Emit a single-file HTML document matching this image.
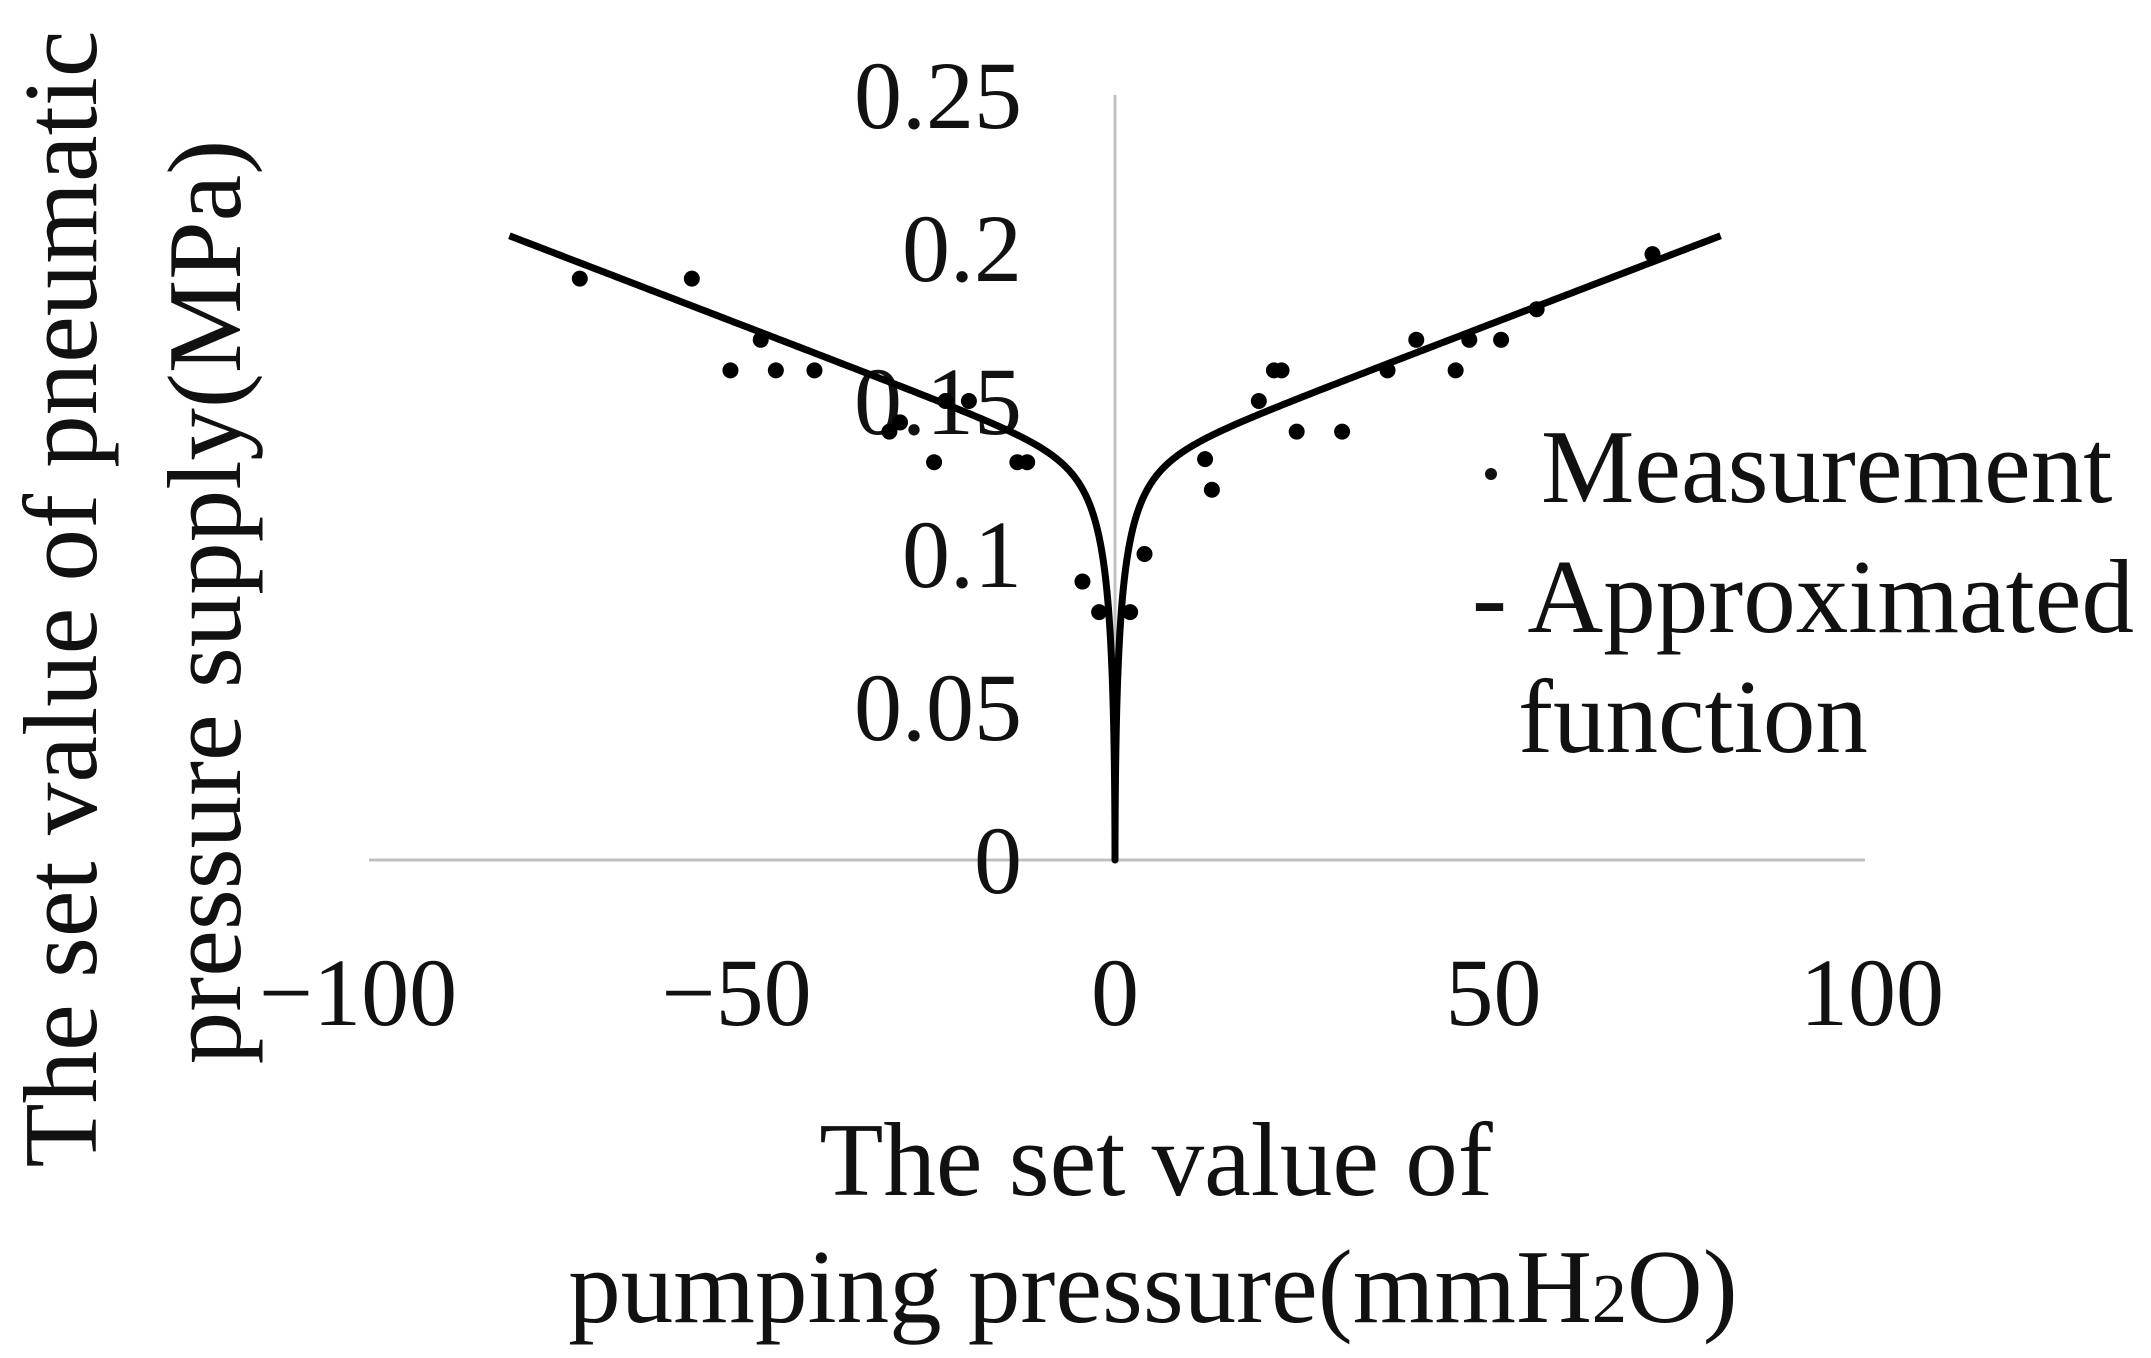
<!DOCTYPE html>
<html><head><meta charset="utf-8"><style>
html,body{margin:0;padding:0;background:#fff;}
svg text{font-family:"Liberation Serif","Noto Serif CJK SC",serif;fill:#111;}
</style></head><body>
<svg id="chart" width="2151" height="1353" viewBox="0 0 2151 1353" xmlns="http://www.w3.org/2000/svg">
<rect width="2151" height="1353" fill="#fff"/>
<g id="axes"></g>
<g id="curve"></g>
<g id="points"></g>
<g>
<circle cx="1491" cy="474" r="6" fill="#111"/>
<text x="1541" y="502" font-size="105">Measurement</text>
<text x="1472" y="632" font-size="105">- Approximated</text>
<text x="1518" y="752" font-size="105">function</text>
</g>
<text x="1156" y="1195" font-size="105" text-anchor="middle">The set value of</text>
<text x="1153" y="1322" font-size="105" text-anchor="middle">pumping pressure(mmH<tspan font-size="70">2</tspan>O)</text>
<text transform="translate(96,599) rotate(-90)" font-size="105" text-anchor="middle">The set value of pneumatic</text>
<text transform="translate(240,602) rotate(-90)" font-size="105" text-anchor="middle">pressure supply(MPa)</text>
</svg>
<script>
const xTicks = [-100, -50, 0, 50, 100];
const yTicks = [0, 0.05, 0.1, 0.15, 0.2, 0.25];
const yTickLabels = ["0", "0.05", "0.1", "0.15", "0.2", "0.25"];
const xTickLabels = ["\u2212100", "\u221250", "0", "50", "100"];
const measX = [-70.7, -55.9, -46.8, -50.8, -44.8, -39.7, -29.8, -28.4, -22.4, -19.3, -23.9, -12.9, -11.6, -4.3, -2.1, 2, 3.9, 11.9, 12.8, 19, 21, 22, 24, 30, 36, 39.8, 45, 46.8, 51, 55.7, 71];
const measY = [0.19, 0.19, 0.17, 0.16, 0.16, 0.16, 0.14, 0.143, 0.15, 0.15, 0.13, 0.13, 0.13, 0.091, 0.081, 0.081, 0.1, 0.131, 0.121, 0.15, 0.16, 0.16, 0.14, 0.14, 0.16, 0.17, 0.16, 0.17, 0.17, 0.18, 0.198];
const fitSlope = [0.00095];
const fitAmp = [0.128];
const fitScale = [0.85];
const fitPow = [0.557];
const fitRange = [-80, 80];

const NS = "http://www.w3.org/2000/svg";
function xs(v){ return 1115 + v * 7.57; }
function ys(v){ return 860 - v * 3060; }
function fitY(x){
  const m = Math.abs(x);
  return fitSlope[0] * m + fitAmp[0] * (1 - Math.exp(-Math.pow(m / fitScale[0], fitPow[0])));
}
function mk(tag, attrs, parent){
  const e = document.createElementNS(NS, tag);
  for (const k in attrs) e.setAttribute(k, attrs[k]);
  parent.appendChild(e);
  return e;
}
const axes = document.getElementById('axes');
let l = mk('line', {x1: 369, x2: 1865, y1: ys(0), y2: ys(0), stroke: '#c0c0c0', 'stroke-width': 3}, axes);


l = mk('line', {x1: xs(0), x2: xs(0), y1: ys(0.25), y2: ys(0), stroke: '#c0c0c0', 'stroke-width': 3}, axes);


yTicks.forEach((v, i) => {
  const t = mk('text', {x: 1022, y: ys(v) + 33, 'font-size': 96, 'text-anchor': 'end'}, axes);
  t.textContent = yTickLabels[i];
  
  
});
xTicks.forEach((v, i) => {
  const t = mk('text', {x: xs(v), y: 1025, 'font-size': 96, 'text-anchor': 'middle'}, axes);
  t.textContent = xTickLabels[i];
  
  
});
const curveG = document.getElementById('curve');
let d = '';
const N = 400;
const pts = [];
for (let i = N; i >= 0; i--) pts.push(-Math.pow(i / N, 3) * Math.abs(fitRange[0]));
for (let i = 1; i <= N; i++) pts.push(Math.pow(i / N, 3) * fitRange[1]);
pts.forEach((x, i) => {
  d += (i ? 'L' : 'M') + xs(x).toFixed(2) + ',' + ys(fitY(x)).toFixed(2);
});
const p = mk('path', {d: d, fill: 'none', stroke: '#000', 'stroke-width': 7, 'stroke-linejoin': 'round'}, curveG);


const ptsG = document.getElementById('points');
measX.forEach((x, i) => {
  const c = mk('circle', {cx: xs(x), cy: ys(measY[i]), r: 8, fill: '#000'}, ptsG);
  
  
});
</script>
</body></html>
